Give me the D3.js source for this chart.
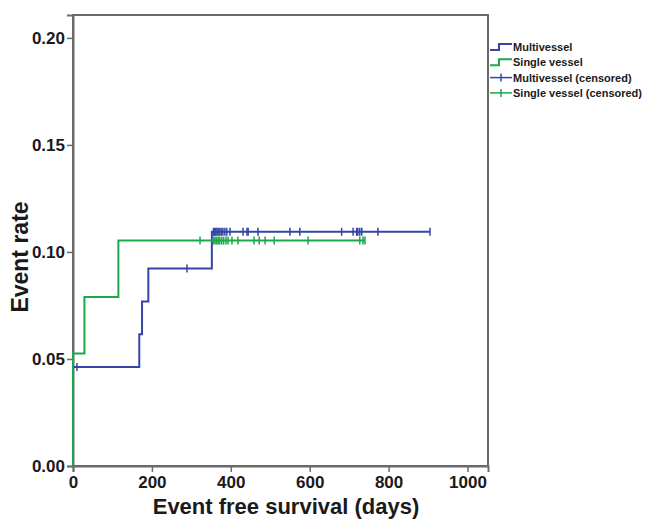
<!DOCTYPE html>
<html>
<head>
<meta charset="utf-8">
<script src="https://cdn.jsdelivr.net/npm/d3@7"></script>
<style>
  body { margin: 0; background: #fff; }
  text { font-family: "Liberation Sans", Arial, sans-serif; font-weight: bold; fill: #1a1a1a; }
</style>
</head>
<body>
<svg width="646" height="520"></svg>
<script>
// Kaplan-Meier style cumulative event rate, two groups
const mvTimes = [0, 0, 168, 175, 191, 352];
const mvRates = [0, 0.0462, 0.0615, 0.0769, 0.0923, 0.1094];
const mvEnd = 905;
const mvCensored = [10, 289, 356, 359, 362, 365, 368, 372, 376, 380, 385, 390, 398, 431, 441, 444, 469, 550, 575, 681, 710, 719, 722, 727, 732, 773, 905];

const svTimes = [0, 0, 29, 115];
const svRates = [0, 0.0526, 0.0789, 0.1053];
const svEnd = 740;
const svCensored = [322, 357, 360, 364, 368, 372, 377, 382, 388, 393, 403, 418, 459, 472, 487, 510, 596, 727, 735, 740];

const xTicks = [0, 200, 400, 600, 800, 1000];
const yTicks = [0, 0.05, 0.10, 0.15, 0.20];
const legendLabels = ['Multivessel', 'Single vessel', 'Multivessel (censored)', 'Single vessel (censored)'];

const blue = '#3346a8', green = '#1aa94a', frame = '#6a6a6a';

const svg = d3.select('svg');
const x = d3.scaleLinear().domain([0, 1052]).range([73, 488]);
const y = d3.scaleLinear().domain([0, 0.2107]).range([466, 15]);

// box
svg.append('rect')
    .attr('x', x(0)).attr('y', y(0.2107))
    .attr('width', x(1052) - x(0)).attr('height', y(0) - y(0.2107))
    .attr('fill', 'none').attr('stroke', frame).attr('stroke-width', 2);

const xAxis = svg.append('g')
    .attr('transform', `translate(0,${y(0)})`)
    .call(d3.axisBottom(x).tickValues(xTicks).tickFormat(d3.format('d')).tickSize(6).tickPadding(4));
const yAxis = svg.append('g')
    .attr('transform', `translate(${x(0)},0)`)
    .call(d3.axisLeft(y).tickValues(yTicks).tickFormat(d3.format('.2f')).tickSize(6).tickPadding(2));

[xAxis, yAxis].forEach(g => {
    g.select('.domain').attr('stroke', frame).attr('stroke-width', 2);
    g.selectAll('.tick line').attr('stroke', frame).attr('stroke-width', 1.5);
    g.selectAll('.tick text')
        .attr('fill', '#1a1a1a')
        .style('font-size', '17px')
        .style('font-family', '"Liberation Sans", Arial, sans-serif')
        .style('font-weight', 'bold');
});

// step curves
const line = d3.line().x(d => x(d[0])).y(d => y(d[1])).curve(d3.curveStepAfter);
function stepPoints(times, rates, end) {
    const pts = times.map((t, i) => [t, rates[i]]);
    pts.push([end, rates[rates.length - 1]]);
    return pts;
}
function rateAt(times, rates, t) {
    let r = rates[0];
    times.forEach((tt, i) => { if (tt <= t) r = rates[i]; });
    return r;
}

const series = [
    { times: mvTimes, rates: mvRates, end: mvEnd, cens: mvCensored, color: blue },
    { times: svTimes, rates: svRates, end: svEnd, cens: svCensored, color: green }
];

series.forEach(s => {
    svg.append('path')
        .attr('d', line(stepPoints(s.times, s.rates, s.end)))
        .attr('fill', 'none')
        .attr('stroke', s.color)
        .attr('stroke-width', 2);
    svg.selectAll(null).data(s.cens).enter().append('line')
        .attr('x1', d => x(d)).attr('x2', d => x(d))
        .attr('y1', d => y(rateAt(s.times, s.rates, d)) - 4)
        .attr('y2', d => y(rateAt(s.times, s.rates, d)) + 4)
        .attr('stroke', s.color)
        .attr('stroke-width', 1.5);
});

// axis titles
svg.append('text')
    .attr('x', 286).attr('y', 514)
    .attr('text-anchor', 'middle')
    .style('font-size', '22px')
    .text('Event free survival (days)');
svg.append('text')
    .attr('transform', 'translate(28,257) rotate(-90)')
    .attr('text-anchor', 'middle')
    .style('font-size', '23px')
    .text('Event rate');

// legend
const legend = svg.append('g').attr('transform', 'translate(490,47)');
const legColors = [blue, green, blue, green];
legendLabels.forEach((lab, i) => {
    const g = legend.append('g').attr('transform', `translate(0,${i * 15.3})`);
    if (i < 2) {
        g.append('path')
            .attr('d', 'M0,3 H9 V-3 H22')
            .attr('fill', 'none')
            .attr('stroke', legColors[i])
            .attr('stroke-width', 2);
    } else {
        g.append('line').attr('x1', 0).attr('x2', 22).attr('y1', 0).attr('y2', 0)
            .attr('stroke', legColors[i]).attr('stroke-width', 1.5);
        g.append('line').attr('x1', 11).attr('x2', 11).attr('y1', -4).attr('y2', 4)
            .attr('stroke', legColors[i]).attr('stroke-width', 1.5);
    }
    g.append('text')
        .attr('x', 23).attr('y', 4)
        .style('font-size', '11px')
        .text(lab);
});
</script>
</body>
</html>
